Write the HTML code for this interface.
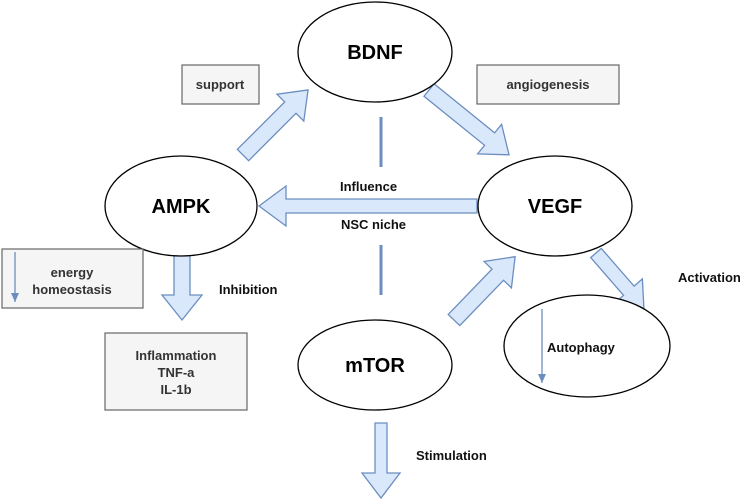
<!DOCTYPE html>
<html><head><meta charset="utf-8"><style>
html,body{margin:0;padding:0;background:#fff;}
svg{display:block;font-family:"Liberation Sans",Arial,sans-serif;font-weight:bold;}
</style></head><body>
<svg width="750" height="503" viewBox="0 0 750 503" xmlns="http://www.w3.org/2000/svg">
<defs>
<marker id="ah" markerWidth="9" markerHeight="8" refX="9" refY="4" orient="auto" markerUnits="userSpaceOnUse">
<path d="M0,0 L9,4 L0,8 Z" fill="#6c8ebf"/>
</marker>
</defs>
<g fill="#dae8fc" stroke="#6c8ebf" stroke-width="1.3">
<g transform="translate(243,155) rotate(-45)"><polygon points="0,-8 67,-8 67,-19 92,0 67,19 67,8 0,8"/></g>
<g transform="translate(429,90) rotate(39)"><polygon points="0,-8 78,-8 78,-19 103,0 78,19 78,8 0,8"/></g>
<g transform="translate(477,206) rotate(180)"><polygon points="0,-7 191,-7 191,-20 218,0 191,20 191,7 0,7"/></g>
<g transform="translate(182,252) rotate(90)"><polygon points="0,-8 43,-8 43,-20 68,0 43,20 43,8 0,8"/></g>
<g transform="translate(454,320) rotate(-46)"><polygon points="0,-8 63,-8 63,-19 88,0 63,19 63,8 0,8"/></g>
<g transform="translate(596,253) rotate(49)"><polygon points="0,-7 50,-7 50,-18 73,0 50,18 50,7 0,7"/></g>
<g transform="translate(381,423) rotate(90)"><polygon points="0,-6 50,-6 50,-19 75,0 50,19 50,6 0,6"/></g>
</g>
<g stroke="#6c8ebf" stroke-width="3">
<line x1="381" y1="117" x2="381" y2="167"/>
<line x1="381" y1="245" x2="381" y2="295"/>
</g>
<g fill="#fff" stroke="#000" stroke-width="1.3">
<ellipse cx="375" cy="52" rx="77" ry="50"/>
<ellipse cx="181" cy="206" rx="76" ry="50"/>
<ellipse cx="555" cy="206" rx="77" ry="50"/>
<ellipse cx="375" cy="365" rx="77" ry="45"/>
<ellipse cx="587" cy="346" rx="83" ry="51"/>
</g>
<g fill="#f5f5f5" stroke="#666" stroke-width="1.2">
<rect x="182" y="65" width="77" height="39"/>
<rect x="477" y="65" width="142" height="39"/>
<rect x="2" y="249" width="141" height="59"/>
<rect x="105" y="333" width="142" height="77"/>
</g>
<line x1="15" y1="252" x2="15" y2="302" stroke="#6c8ebf" stroke-width="1.3" marker-end="url(#ah)"/>
<line x1="542" y1="309" x2="542" y2="383" stroke="#6c8ebf" stroke-width="1.3" marker-end="url(#ah)"/>
<g text-anchor="middle" font-size="20" fill="#000">
<text x="375" y="59">BDNF</text>
<text x="181" y="213">AMPK</text>
<text x="555" y="213">VEGF</text>
<text x="375" y="372">mTOR</text>
</g>
<g font-size="13" fill="#333" text-anchor="middle">
<text x="220" y="89">support</text>
<text x="548" y="89">angiogenesis</text>
<text x="72" y="277">energy</text>
<text x="72" y="294">homeostasis</text>
<text x="176" y="360">Inflammation</text>
<text x="176" y="377">TNF-a</text>
<text x="176" y="394">IL-1b</text>
</g>
<g font-size="13" fill="#111">
<text x="340" y="191">Influence</text>
<text x="341" y="229">NSC niche</text>
<text x="219" y="294">Inhibition</text>
<text x="678" y="282">Activation</text>
<text x="416" y="460">Stimulation</text>
<text x="547" y="352">Autophagy</text>
</g>
</svg>
</body></html>
